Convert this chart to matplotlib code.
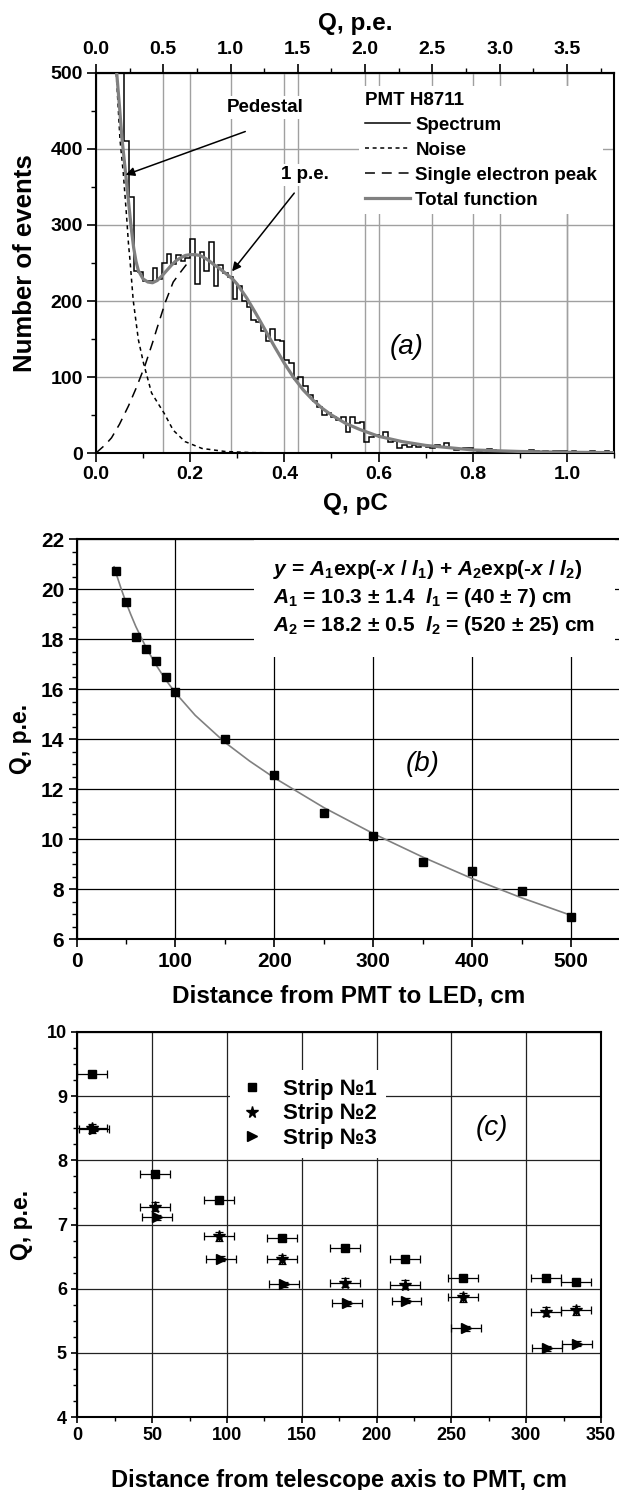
import numpy as np
import matplotlib
matplotlib.use("Agg")
import matplotlib.pyplot as plt
from matplotlib.lines import Line2D
from matplotlib.ticker import MultipleLocator, FixedLocator, FormatStrFormatter

plt.rcParams['font.family'] = ['Liberation Sans', 'DejaVu Sans']
plt.rcParams['font.weight'] = 'bold'
plt.rcParams['axes.labelweight'] = 'bold'
plt.rcParams['mathtext.fontset'] = 'custom'
plt.rcParams['mathtext.rm'] = 'Liberation Sans:bold'
plt.rcParams['mathtext.it'] = 'Liberation Sans:italic:bold'
plt.rcParams['mathtext.bf'] = 'Liberation Sans:bold'
plt.rcParams['axes.linewidth'] = 1.5

# ---------------- (a) charge spectrum, PMT H8711 ----------------
PE_PER_PC = 3.5          # 1.0 pC on the bottom axis = 3.5 p.e. on the top axis
hist_start = 0.05        # pC, left edge of first bin
hist_width = 0.01        # pC
hist_counts = [560, 410, 337, 240, 238, 226, 226, 244, 229, 250,
               262, 249, 260, 252, 256, 282, 222, 265, 240, 278,
               220, 248, 237, 232, 203, 220, 200, 192, 175, 172,
               160, 147, 163, 149, 147, 122, 118, 98, 100, 88,
               76, 68, 61, 50, 52, 48, 43, 48, 28, 48,
               39, 41, 15, 21, 24, 21, 27, 15, 16, 6,
               11, 8, 11, 8, 11, 8, 6, 11, 8, 13,
               6, 4, 5, 6, 6, 4, 3, 4, 5, 4,
               3, 2, 3, 2, 2, 3, 2, 4, 2, 1,
               2, 1, 2, 3, 2, 1, 2, 1, 1, 1,
               2, 1, 1, 2, 1]

noise_q = [0.043, 0.051, 0.058, 0.065, 0.069, 0.072, 0.079, 0.090, 0.101,
           0.118, 0.145, 0.164, 0.189, 0.225, 0.274, 0.33, 0.40, 0.45]
noise_n = [500, 412, 368, 311, 275, 255, 201, 149, 118,
           79, 52, 30, 15, 6, 2, 0.5, 0.1, 0]

sep_q = [0.0, 0.02, 0.033, 0.05, 0.069, 0.085, 0.104, 0.12, 0.129,
         0.147, 0.164, 0.182, 0.192]
sep_n = [0, 11, 20, 38, 62, 85, 115, 145, 163,
         198, 225, 240, 248]

total_q = [0.044, 0.05, 0.055, 0.06, 0.065, 0.07, 0.075, 0.08, 0.085, 0.09,
           0.10, 0.11, 0.12, 0.13, 0.14, 0.15, 0.16, 0.17, 0.18, 0.19,
           0.20, 0.21, 0.22, 0.23, 0.24, 0.25, 0.26, 0.27, 0.28, 0.29,
           0.30, 0.32, 0.34, 0.36, 0.38, 0.40, 0.42, 0.44, 0.46, 0.48,
           0.50, 0.53, 0.56, 0.60, 0.65, 0.70, 0.75, 0.80, 0.85, 0.90,
           1.00, 1.10]
total_n = [500, 455, 415, 385, 355, 325, 295, 270, 252, 240,
           229, 225, 224, 227, 233, 240, 247, 253, 257, 260,
           261, 261, 260, 257, 253, 248, 244, 239, 234, 229,
           222, 204, 183, 161, 139, 118, 99, 83, 70, 59,
           50, 39, 31, 22, 15, 10, 7, 4, 3, 2,
           1, 0.5]

# ---------------- (b) attenuation along the fibre ----------------
led_dist = [40, 50, 60, 70, 80, 90, 100, 150, 200, 250, 300, 350, 400, 450, 500]
led_q = [20.72, 19.51, 18.10, 17.62, 17.15, 16.49, 15.88, 14.02, 12.56,
         11.07, 10.13, 9.09, 8.73, 7.92, 6.90]
# fit y = A1 exp(-x/l1) + A2 exp(-x/l2), A1=10.3, l1=40, A2=18.2, l2=520
fit_dist = [38, 40, 45, 50, 55, 60, 70, 80, 90, 100, 120, 150, 175, 200,
            250, 300, 350, 400, 450, 502]
fit_q = [20.90, 20.64, 20.04, 19.48, 18.98, 18.51, 17.70, 17.00, 16.39, 15.86,
         14.96, 13.88, 13.13, 12.46, 11.27, 10.23, 9.29, 8.43, 7.66, 6.93]

# ---------------- (c) strips vs distance from telescope axis ----------------
strip1_x = [10, 52, 95, 137, 179, 219, 258, 313, 333]
strip1_q = [9.35, 7.78, 7.38, 6.79, 6.64, 6.47, 6.16, 6.16, 6.10]
strip2_x = [10, 52, 95, 137, 179, 219, 258, 313, 333]
strip2_q = [8.50, 7.28, 6.82, 6.46, 6.09, 6.06, 5.87, 5.64, 5.66]
strip3_x = [11, 53, 96, 138, 180, 220, 260, 314, 334]
strip3_q = [8.49, 7.11, 6.47, 6.07, 5.77, 5.81, 5.38, 5.07, 5.14]
dist_err = 10
q_err = [0.04, 0.07, 0.04]
strip_labels = ['Strip №1', 'Strip №2', 'Strip №3']

W, H = 619, 1490
fig = plt.figure(figsize=(W / 100, H / 100), dpi=100)


def px_axes(left, right, top, bottom):
    return fig.add_axes([left / W, 1 - bottom / H, (right - left) / W, (bottom - top) / H])


def style_ticks(ax, size, major_len, minor_len):
    ax.tick_params(which='major', direction='out', length=major_len, width=1.2,
                   labelsize=size, pad=3)
    ax.tick_params(which='minor', direction='out', length=minor_len, width=1.0)
    ax.tick_params(top=False, right=False)


# ===== panel (a) =====
ax_a = px_axes(96, 614, 73, 453)
edges = np.round(hist_start + hist_width * np.arange(len(hist_counts) + 1), 3)
ax_a.stairs(hist_counts, edges, baseline=None, color='black', lw=1.1, zorder=3)
noise_line, = ax_a.plot(noise_q, noise_n, color='black', lw=1.1, ls=(0, (2.6, 2.4)), zorder=4)
sep_line, = ax_a.plot(sep_q, sep_n, color='black', lw=1.1, ls=(0, (6.5, 4.5)), zorder=4)
total_line, = ax_a.plot(total_q, total_n, color='#808080', lw=2.3, zorder=5)

ax_a.set_xlim(0, 1.1)
ax_a.set_ylim(0, 500)
ax_a.xaxis.set_major_locator(MultipleLocator(0.2))
ax_a.xaxis.set_minor_locator(MultipleLocator(0.1))
ax_a.xaxis.set_major_formatter(FormatStrFormatter('%.1f'))
ax_a.yaxis.set_major_locator(MultipleLocator(100))
ax_a.yaxis.set_minor_locator(MultipleLocator(50))
style_ticks(ax_a, 14, 6.5, 3.6)
ax_a.grid(True, which='major', color='#a0a0a0', lw=1.0, zorder=0)
ax_a.set_axisbelow(True)
pe_ticks = np.arange(0, 3.6, 0.5)
for pe in pe_ticks[1:]:
    ax_a.axvline(pe / PE_PER_PC, color='#a0a0a0', lw=1.0, zorder=0)
ax_a.set_xlabel('Q, pC', fontsize=17.5, labelpad=6)
ax_a.set_ylabel('Number of events', fontsize=18.5, labelpad=10)

sec = ax_a.secondary_xaxis('top', functions=(lambda q: q * PE_PER_PC,
                                             lambda p: p / PE_PER_PC))
sec.xaxis.set_major_locator(FixedLocator(pe_ticks))
sec.xaxis.set_minor_locator(FixedLocator(np.arange(0.25, 3.85, 0.5)))
sec.xaxis.set_major_formatter(FormatStrFormatter('%.1f'))
sec.tick_params(which='major', direction='out', length=6.5, width=1.2, labelsize=14, pad=4)
sec.tick_params(which='minor', direction='out', length=3.6, width=1.0)
sec.set_xlabel('Q, p.e.', fontsize=17.5, labelpad=8)

handles = [Line2D([], [], color='black', lw=1.1), noise_line, sep_line, total_line]
labels = ['Spectrum', 'Noise', 'Single electron peak', 'Total function']
leg = ax_a.legend(handles, labels, title='PMT H8711', loc='upper left',
                  bbox_to_anchor=(0.49, 0.99), frameon=True, fancybox=False,
                  edgecolor='none', facecolor='white', framealpha=1,
                  fontsize=13.5, title_fontsize=13.5, handlelength=2.4,
                  handletextpad=0.3, labelspacing=0.42, borderpad=0.3,
                  alignment='left')
leg.get_title().set_fontweight('bold')

arrow = dict(arrowstyle='-|>', color='black', lw=1.1, mutation_scale=13,
             shrinkA=0, shrinkB=0)
ax_a.annotate('', xy=(0.063, 366), xytext=(0.317, 423), arrowprops=arrow, zorder=6)
ax_a.annotate('', xy=(0.289, 239), xytext=(0.421, 342), arrowprops=arrow, zorder=6)
ax_a.text(0.36, 455, 'Pedestal', fontsize=13.5, ha='center', va='center',
          bbox=dict(fc='white', ec='none', pad=2), zorder=2)
ax_a.text(0.443, 366, '1 p.e.', fontsize=13.5, ha='center', va='center',
          bbox=dict(fc='white', ec='none', pad=2), zorder=2)
ax_a.text(0.66, 139, '(a)', fontsize=20, style='italic', fontweight='normal',
          ha='center', va='center')

# ===== panel (b) =====
ax_b = px_axes(76.5, 620.5, 539.3, 939.3)
ax_b.plot(fit_dist, fit_q, color='#808080', lw=1.2, zorder=3)
ax_b.plot(led_dist, led_q, 's', color='black', ms=5.5, zorder=4)
ax_b.set_xlim(0, 550)
ax_b.set_ylim(6, 22)
ax_b.xaxis.set_major_locator(MultipleLocator(100))
ax_b.xaxis.set_minor_locator(MultipleLocator(50))
ax_b.yaxis.set_major_locator(MultipleLocator(2))
ax_b.yaxis.set_minor_locator(MultipleLocator(0.5))
style_ticks(ax_b, 15, 6, 3.6)
ax_b.grid(True, which='major', color='black', lw=0.9, zorder=0)
ax_b.set_axisbelow(True)
ax_b.set_xlabel('Distance from PMT to LED, cm', fontsize=17.5, labelpad=10)
ax_b.set_ylabel('Q, p.e.', fontsize=16.5, labelpad=6)
fit_text = ('$y$ = $A_{\\mathit{1}}$exp(-$x$ / $l_{\\mathit{1}}$) + '
            '$A_{\\mathit{2}}$exp(-$x$ / $l_{\\mathit{2}}$)\n'
            '$A_{\\mathit{1}}$ = 10.3 ± 1.4  $l_{\\mathit{1}}$ = (40 ± 7) cm\n'
            '$A_{\\mathit{2}}$ = 18.2 ± 0.5  $l_{\\mathit{2}}$ = (520 ± 25) cm')
ax_b.text(199, 21.25, fit_text, fontsize=15, ha='left', va='top', linespacing=1.3,
          bbox=dict(boxstyle='square,pad=0.95', fc='white', ec='none'), zorder=2.2)
ax_b.text(350, 13.0, '(b)', fontsize=20, style='italic', fontweight='normal',
          ha='center', va='center')

# ===== panel (c) =====
ax_c = px_axes(77.3, 601, 1032, 1417)
markers = [('s', 5.5), ('*', 8.5), ('>', 7.5)]
strips = [(strip1_x, strip1_q), (strip2_x, strip2_q), (strip3_x, strip3_q)]
for (xs, qs), (mk, ms), err, lab in zip(strips, markers, q_err, strip_labels):
    ax_c.errorbar(xs, qs, xerr=dist_err, yerr=err, fmt='none', ecolor='black',
                  elinewidth=0.9, capsize=2.6, capthick=0.9, zorder=3)
    ax_c.plot(xs, qs, mk, color='black', ms=ms, ls='none', label=lab, zorder=4)
ax_c.set_xlim(0, 350)
ax_c.set_ylim(4, 10)
ax_c.xaxis.set_major_locator(MultipleLocator(50))
ax_c.xaxis.set_minor_locator(MultipleLocator(25))
ax_c.yaxis.set_major_locator(MultipleLocator(1))
ax_c.yaxis.set_minor_locator(MultipleLocator(0.25))
style_ticks(ax_c, 13, 4.5, 2.8)
ax_c.grid(True, which='major', color='#222222', lw=0.9, zorder=0)
ax_c.set_axisbelow(True)
ax_c.set_xlabel('Distance from telescope axis to PMT, cm', fontsize=17, labelpad=18)
ax_c.set_ylabel('Q, p.e.', fontsize=16.5, labelpad=10)
ax_c.legend(loc='upper left', bbox_to_anchor=(0.27, 0.93), frameon=True,
            fancybox=False, edgecolor='none', facecolor='white', framealpha=1,
            fontsize=16, handlelength=1.2, handletextpad=0.8, labelspacing=0.15,
            borderpad=0.4)
ax_c.text(277, 8.5, '(c)', fontsize=20, style='italic', fontweight='normal',
          ha='center', va='center')

fig.savefig('out.png', dpi=100)
